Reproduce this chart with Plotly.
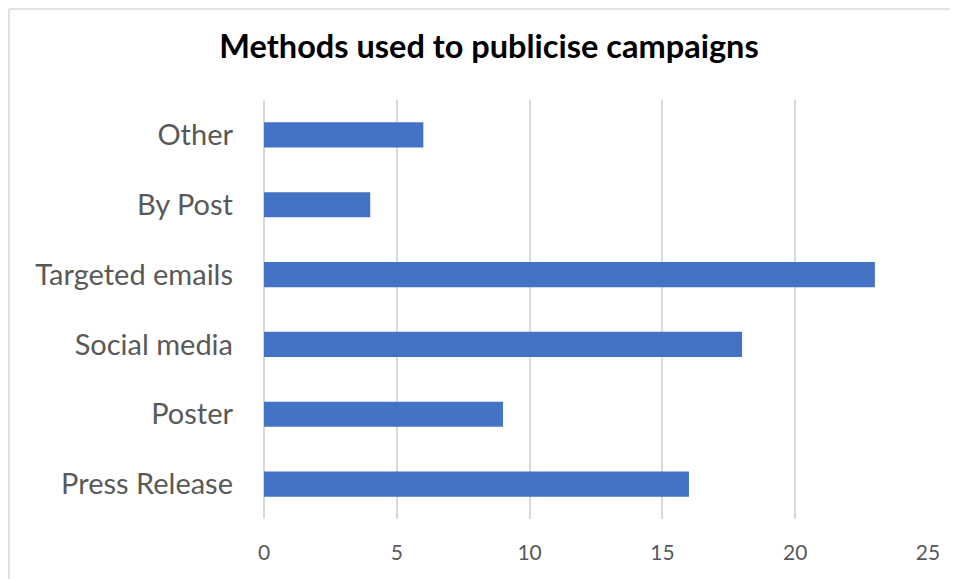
import plotly.graph_objects as go

categories = ["Press Release", "Poster", "Social media", "Targeted emails", "By Post", "Other"]
values = [16, 9, 18, 23, 4, 6]
x_ticks = [0, 5, 10, 15, 20, 25]

W, H = 950, 571
L, T = 256, 92
PW, PH = 664, 419

bx = (1 - L) / PW
by = 1 + (T - 1) / PH

fig = go.Figure(go.Bar(
    x=values, y=categories, orientation="h",
    marker=dict(color="#4472C4", line=dict(width=0)),
    width=0.36,
))

fig.update_layout(
    width=W, height=H,
    margin=dict(l=L, r=W - L - PW, t=T, b=H - T - PH),
    paper_bgcolor="white", plot_bgcolor="white",
    title=dict(text="<b>Methods used to publicise campaigns</b>",
               x=481 / W, xanchor="center", y=1 - 39 / H, yanchor="middle",
               font=dict(family="Lato, Open Sans, sans-serif", size=32.5, color="#000000")),
    showlegend=False,
    font=dict(family="Lato, Open Sans, sans-serif", color="#595959"),
    shapes=[
        dict(type="line", xref="paper", yref="paper", x0=bx, x1=1.2, y0=by, y1=by,
             line=dict(color="#D9D9D9", width=1.5), layer="below"),
        dict(type="line", xref="paper", yref="paper", x0=bx, x1=bx, y0=-0.3, y1=by,
             line=dict(color="#D9D9D9", width=1.5), layer="below"),
    ],
)
fig.update_xaxes(range=[0, 25], tickvals=x_ticks, showgrid=True, gridcolor="#D9D9D9", gridwidth=1.5,
                 zeroline=True, zerolinecolor="#D9D9D9", zerolinewidth=1.5, showline=False,
                 tickfont=dict(size=21, color="#595959"), ticklabelstandoff=19)
fig.update_yaxes(showgrid=False, zeroline=False, showline=False,
                 tickfont=dict(size=29, color="#595959"), ticklabelstandoff=30)

fig.write_html("out.html")
